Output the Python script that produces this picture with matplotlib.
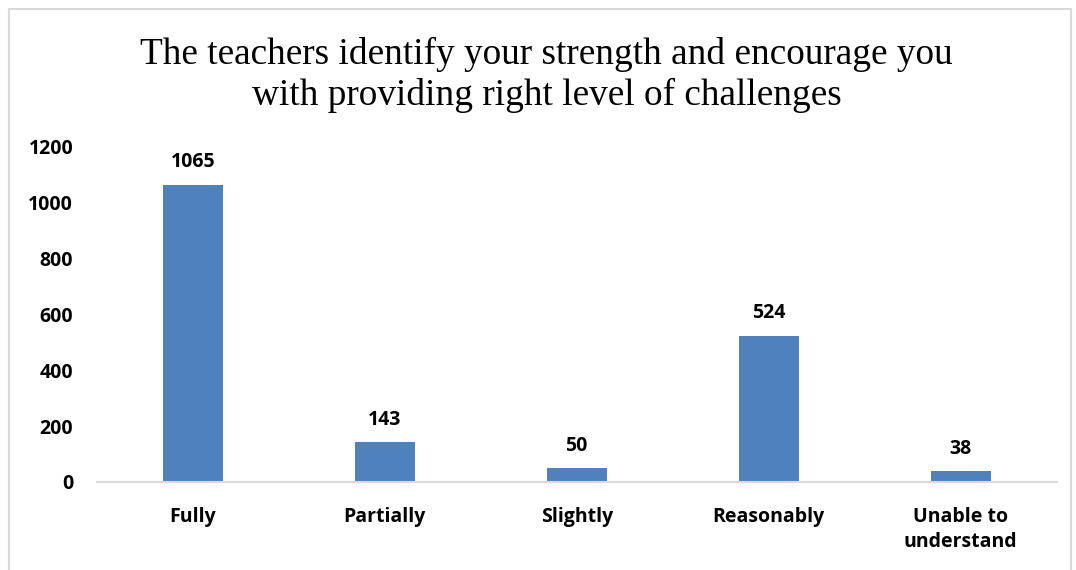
import matplotlib
matplotlib.use("Agg")
import matplotlib.pyplot as plt
from matplotlib.patches import Rectangle

categories = ["Fully", "Partially", "Slightly", "Reasonably", "Unable to\nunderstand"]
counts = [1065, 143, 50, 524, 38]
yticks = [0, 200, 400, 600, 800, 1000, 1200]

BAR = "#4F81BD"
GRID = "#D9D9D9"
LABEL_FONT = ["Open Sans", "DejaVu Sans"]

fig = plt.figure(figsize=(10.76, 5.70), dpi=100, facecolor="white")
ax = fig.add_axes([0.090, 0.1544, 0.892, 0.588])

x = range(len(categories))
bars = ax.bar(x, counts, width=0.3125, color=BAR)
for bar, val in zip(bars, counts):
    ax.annotate(f"{val}", (bar.get_x() + bar.get_width() / 2, val),
                textcoords="offset points", xytext=(0, 9), ha="center", va="bottom",
                fontsize=14, fontweight="bold", family=LABEL_FONT, color="black")

ax.set_xlim(-0.5, len(categories) - 0.5)
ax.set_ylim(0, 1200)
ax.set_yticks(yticks)
ax.set_xticks(list(x))
ax.set_xticklabels(categories, fontsize=14, fontweight="bold", family=LABEL_FONT,
                   linespacing=1.35, va="top")
for lab in ax.get_yticklabels():
    lab.set_fontsize(14); lab.set_fontweight("bold"); lab.set_family(LABEL_FONT)
ax.tick_params(axis="both", length=0)
ax.tick_params(axis="x", pad=18)
ax.tick_params(axis="y", pad=17)
for s in ["top", "right", "left"]:
    ax.spines[s].set_visible(False)
ax.spines["bottom"].set_color(GRID)
ax.spines["bottom"].set_linewidth(1.5)

fig.text(0.508, 0.869, "The teachers identify your strength and encourage you\nwith providing right level of challenges",
         ha="center", va="center", fontsize=26.8, family=["Liberation Serif", "DejaVu Serif"],
         linespacing=1.22)

fig.patches.append(Rectangle((9 / 1076, -0.05), 1 - 14 / 1076, 1.05 - 9 / 570,
                             transform=fig.transFigure, fill=False, edgecolor=GRID, linewidth=1.5))

plt.savefig("out.png", dpi=100, facecolor="white")
plt.close()
